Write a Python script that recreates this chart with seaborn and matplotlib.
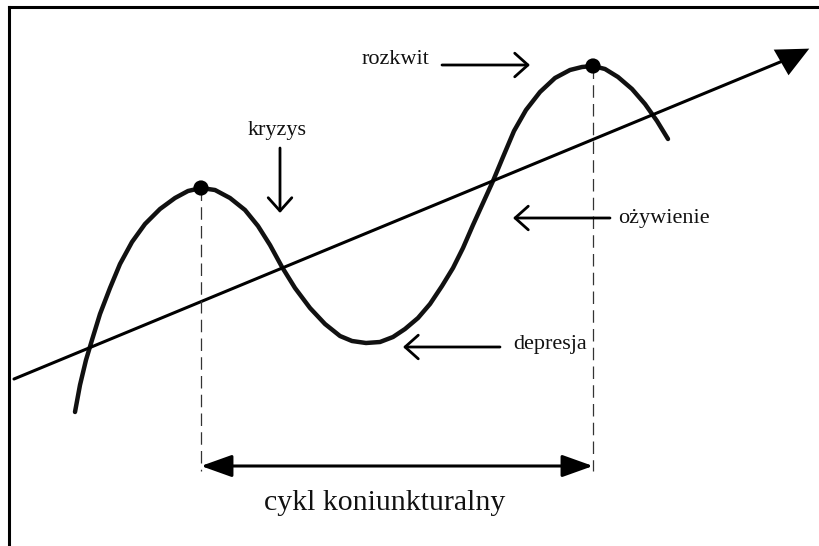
import matplotlib
matplotlib.use("Agg")
import matplotlib.pyplot as plt
import seaborn as sns
import pandas as pd
from matplotlib.patches import ArrowStyle

# ---- data (pixel-like units, y grows downward) ----
curve_x = [75, 80, 86, 92, 100, 110, 120, 132, 145, 160, 175, 188, 201,
           215, 230, 245, 258, 270, 282, 295, 310, 325, 340, 352, 366, 380, 393,
           405, 418, 430, 442, 453, 463, 473, 483, 493, 503, 514, 526, 540, 555,
           570, 582, 593, 605, 618, 632, 645, 657, 668]
curve_y = [412, 385, 360, 340, 314, 288, 264, 242, 224, 209, 198, 191, 188,
           190, 198, 210, 226, 245, 267, 288, 308, 324, 336, 341, 343, 342, 337,
           329, 318, 304, 286, 268, 248, 225, 203, 181, 157, 131, 110, 92, 78,
           70, 67, 66, 69, 77, 89, 104, 121, 139]
trend_x = [14, 785]
trend_y = [379, 60]
peak_x = [201, 593]
peak_y = [188, 66]
cycle_y = 466
dash_bottom = 471

labels = ["rozkwit", "kryzys", "ożywienie", "depresja"]
label_x = [395, 277, 664, 550]
label_y = [60, 131, 218, 345]
arrow_from_x = [442, 280, 610, 500]
arrow_from_y = [65, 148, 218, 347]
arrow_to_x = [530, 280, 513, 403]
arrow_to_y = [65, 213, 218, 347]
cycle_label = "cykl koniunkturalny"

sns.set_theme(style="white")
plt.rcParams["font.family"] = ["Liberation Serif", "DejaVu Serif"]

W, H = 820, 546
fig = plt.figure(figsize=(8.2, 5.46), dpi=100)
left_px, top_px = 8.5, 6.5
ax = fig.add_axes([left_px / W, 0, (W + 2 - left_px) / W, (H - top_px) / H])
ax.set_xlim(left_px, W + 2)
ax.set_ylim(H, top_px)
ax.set_xticks([])
ax.set_yticks([])
for s in ["right", "bottom"]:
    ax.spines[s].set_visible(False)
for s in ["left", "top"]:
    ax.spines[s].set_visible(True)
    ax.spines[s].set_linewidth(2.2)
    ax.spines[s].set_color("black")

df_curve = pd.DataFrame({"x": curve_x, "y": curve_y})
df_trend = pd.DataFrame({"x": trend_x, "y": trend_y})

sns.lineplot(data=df_curve, x="x", y="y", sort=False, color="#111111",
             linewidth=3.2, ax=ax)
sns.lineplot(data=df_trend, x="x", y="y", sort=False, color="black",
             linewidth=2.2, ax=ax)
# trend arrowhead
ax.plot([trend_x[-1] + 5], [trend_y[-1] - 2], linestyle="none",
        marker=[(-17, 9), (19, 10), (-2, -17)], markersize=27,
        color="black", markeredgewidth=0)

# peaks
sns.scatterplot(x=peak_x, y=peak_y, s=120, color="black", edgecolor="none",
                ax=ax, zorder=5)

# dashed verticals
ax.vlines(peak_x, peak_y, [dash_bottom] * len(peak_x), colors="#333333",
          linewidth=0.9, linestyles=(0, (10, 5)))

# cycle double arrow
ax.annotate("", xy=(peak_x[1], cycle_y), xytext=(peak_x[0], cycle_y),
            arrowprops=dict(arrowstyle=ArrowStyle("<|-|>", head_length=1.9,
                                                  head_width=0.68),
                            mutation_scale=10, color="black", lw=2.2,
                            shrinkA=0, shrinkB=0))
ax.text((peak_x[0] + peak_x[1]) / 2 - 12, 503, cycle_label, ha="center",
        va="center", fontsize=21.5, color="#111111")

# labels with open arrows
for lab, lx, ly, fx, fy, tx, ty in zip(labels, label_x, label_y, arrow_from_x,
                                       arrow_from_y, arrow_to_x, arrow_to_y):
    ax.text(lx, ly, lab, ha="center", va="center", fontsize=16,
            color="#111111")
    ax.annotate("", xy=(tx, ty), xytext=(fx, fy),
                arrowprops=dict(arrowstyle=ArrowStyle("->", head_length=0.95,
                                                      head_width=0.85),
                                mutation_scale=10, color="black", lw=2.0,
                                shrinkA=0, shrinkB=0))

fig.savefig("out.png", dpi=100)
